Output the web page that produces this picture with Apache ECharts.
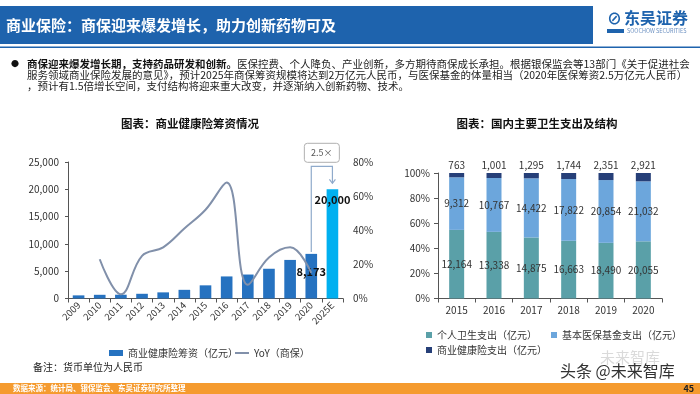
<!DOCTYPE html>
<html><head><meta charset="utf-8">
<script src="https://cdn.jsdelivr.net/npm/echarts@6/dist/echarts.min.js"></script>
<style>html,body{margin:0;padding:0;background:#fff}#c{width:700px;height:394px}</style>
</head><body><div id="c"></div><script>
// ---- data ----
const years = ['2009','2010','2011','2012','2013','2014','2015','2016','2017','2018','2019','2020','2025E'];
const premium = [574, 677, 692, 863, 1123, 1587, 2410, 4042, 4389, 5448, 7066, 8173, 20000];
const yoy = [null, 23, 2.5, 25, 30, 41, 52, 68, 8, 24, 30, 15, null];
const labeledBars = ['2020', '2025E'];
const years2 = ['2015','2016','2017','2018','2019','2020'];
const personal = [12164, 13338, 14875, 16663, 18490, 20055];
const basic = [9312, 10767, 14422, 17822, 20854, 21032];
const commercial = [763, 1001, 1295, 1744, 2351, 2921];
const multipleText = '2.5×';

const FONT = '"Noto Sans CJK SC", "Noto Sans", sans-serif';
const fmt = v => Number(v).toLocaleString('en-US');
const totals = personal.map((v, i) => v + basic[i] + commercial[i]);
const pct = arr => arr.map((v, i) => v / totals[i] * 100);

const chart = echarts.init(document.getElementById('c'), null, {renderer: 'canvas'});

const baseGraphic = [
  {type: 'rect', shape: {x: 0, y: 6, width: 593, height: 38}, style: {fill: '#1E63AD'}},
  {type: 'text', x: 6, y: 25, style: {text: '商业保险：商保迎来爆发增长，助力创新药物可及', fill: '#fff', font: 'bold 15px ' + FONT, textVerticalAlign: 'middle'}},
  {type: 'rect', shape: {x: 0, y: 46.5, width: 700, height: 1.6}, style: {fill: '#1E63AD'}},
  // logo
  {type: 'text', x: 607, y: 18, style: {text: '⊘', fill: '#1E63AD', font: 'bold 15px ' + FONT, textVerticalAlign: 'middle'}},
  {type: 'text', x: 624, y: 18, style: {text: '东吴证券', fill: '#1E63AD', font: 'bold 16px ' + FONT, textVerticalAlign: 'middle'}},
  {type: 'rect', shape: {x: 607, y: 29, width: 17, height: 4}, style: {fill: '#1E63AD'}},
  {type: 'text', x: 627, y: 31, style: {text: 'SOOCHOW SECURITIES', fill: '#6a8fc0', font: '5.5px ' + FONT, textVerticalAlign: 'middle'}},
  // bullet text
  {type: 'text', x: 11, y: 64, style: {text: '●', fill: '#111', font: '8px ' + FONT, textVerticalAlign: 'middle'}},
  {type: 'text', x: 27, y: 64, style: {
    text: '{b|商保迎来爆发增长期，支持药品研发和创新。}{n|医保控费、个人降负、产业创新，多方期待商保成长承担。根据银保监会等13部门《关于促进社会}',
    textVerticalAlign: 'middle',
    rich: {b: {font: 'bold 10.5px ' + FONT, fill: '#111'}, n: {font: '10.5px ' + FONT, fill: '#222'}}}},
  {type: 'text', x: 27, y: 75, style: {text: '服务领域商业保险发展的意见》，预计2025年商保筹资规模将达到2万亿元人民币，与医保基金的体量相当（2020年医保筹资2.5万亿元人民币）', fill: '#222', font: '10.5px ' + FONT, textVerticalAlign: 'middle'}},
  {type: 'text', x: 27, y: 86, style: {text: '，预计有1.5倍增长空间，支付结构将迎来重大改变，并逐渐纳入创新药物、技术。', fill: '#222', font: '10.5px ' + FONT, textVerticalAlign: 'middle'}},
  // chart titles
  {type: 'text', x: 190, y: 124, style: {text: '图表：商业健康险筹资情况', fill: '#111', font: 'bold 11.5px ' + FONT, textAlign: 'center', textVerticalAlign: 'middle'}},
  {type: 'text', x: 537, y: 124, style: {text: '图表：国内主要卫生支出及结构', fill: '#111', font: 'bold 11.5px ' + FONT, textAlign: 'center', textVerticalAlign: 'middle'}},
  {type: 'text', x: 33, y: 367, style: {text: '备注：货币单位为人民币', fill: '#222', font: '10px ' + FONT, textVerticalAlign: 'middle'}},
  // watermark
  {type: 'text', x: 600, y: 357, style: {text: '未来智库', fill: 'rgba(150,150,150,0.35)', font: '15px ' + FONT, textVerticalAlign: 'middle'}},
  {type: 'text', x: 560, y: 371, style: {text: '头条 @未来智库', fill: '#333', font: '16px ' + FONT, textVerticalAlign: 'middle'}},
  // footer
  {type: 'rect', shape: {x: 0, y: 383, width: 700, height: 11}, style: {fill: '#F59B2F'}},
  {type: 'text', x: 13, y: 388.5, style: {text: '数据来源：统计局、银保监会、东吴证券研究所整理', fill: '#fff', font: 'bold 7.5px ' + FONT, textVerticalAlign: 'middle'}},
  {type: 'text', x: 694, y: 388.5, style: {text: '45', fill: '#222', font: 'bold 9px ' + FONT, textAlign: 'right', textVerticalAlign: 'middle'}}
];

const axisLineStyle = {lineStyle: {color: '#555', width: 1}};
const tickFont = {fontFamily: FONT, fontSize: 10, color: '#333'};

const option = {
  animation: false,
  textStyle: {fontFamily: FONT},
  graphic: baseGraphic,
  grid: [
    {left: 68, right: 357, top: 162, bottom: 95.5},
    {left: 438, right: 38, top: 173, bottom: 95.5}
  ],
  legend: [
    {left: 104, top: 343, itemWidth: 14, itemHeight: 6, itemGap: 10, data: [{name: '商业健康险筹资（亿元）', icon: 'rect'}], textStyle: {fontFamily: FONT, fontSize: 10, color: '#333'}},
    {left: 230, top: 343, itemWidth: 14, itemHeight: 2, data: [{name: 'YoY（商保）', icon: 'rect'}], textStyle: {fontFamily: FONT, fontSize: 10, color: '#333'}},
    {left: 421, top: 325, itemWidth: 6, itemHeight: 6, itemGap: 14, data: [{name: '个人卫生支出（亿元）', icon: 'rect'}, {name: '基本医保基金支出（亿元）', icon: 'rect'}], textStyle: {fontFamily: FONT, fontSize: 10, color: '#333'}},
    {left: 421, top: 340, itemWidth: 6, itemHeight: 6, data: [{name: '商业健康险支出（亿元）', icon: 'rect'}], textStyle: {fontFamily: FONT, fontSize: 10, color: '#333'}}
  ],
  xAxis: [
    {gridIndex: 0, type: 'category', data: years, axisLine: axisLineStyle,
     axisTick: {show: true, alignWithLabel: false, length: 4, lineStyle: {color: '#555'}},
     axisLabel: Object.assign({rotate: 45, interval: 0, margin: 5}, tickFont, {fontSize: 9.5})},
    {gridIndex: 1, type: 'category', data: years2, axisLine: axisLineStyle,
     axisTick: {show: true, length: 4, lineStyle: {color: '#555'}},
     axisLabel: Object.assign({interval: 0, margin: 7}, tickFont)}
  ],
  yAxis: [
    {gridIndex: 0, type: 'value', min: 0, max: 25000, interval: 5000,
     axisLine: Object.assign({show: true}, axisLineStyle),
     axisTick: {show: true, length: 3, lineStyle: {color: '#555'}},
     splitLine: {show: false},
     axisLabel: Object.assign({formatter: v => fmt(v), margin: 9}, tickFont)},
    {gridIndex: 0, type: 'value', min: 0, max: 80, interval: 20, position: 'right',
     axisLine: {show: false}, axisTick: {show: false}, splitLine: {show: false},
     axisLabel: Object.assign({formatter: '{value}%', margin: 10}, tickFont)},
    {gridIndex: 1, type: 'value', min: 0, max: 100, interval: 20,
     axisLine: Object.assign({show: true}, axisLineStyle),
     axisTick: {show: true, length: 4, lineStyle: {color: '#555'}},
     splitLine: {show: false},
     axisLabel: Object.assign({formatter: '{value}%', margin: 8}, tickFont)}
  ],
  series: [
    {name: '商业健康险筹资（亿元）', type: 'bar', xAxisIndex: 0, yAxisIndex: 0, barWidth: '55%',
     itemStyle: {color: '#2672C0'},
     data: premium.map((v, i) => {
       const d = {value: v};
       if (years[i] === '2025E') d.itemStyle = {color: '#00B0F0'};
       if (labeledBars.includes(years[i])) d.label = {show: true, position: 'insideTop', distance: years[i] === '2025E' ? 5 : 12, formatter: p => fmt(p.value), fontFamily: FONT, fontWeight: 'bold', fontSize: 11, color: '#111'};
       return d;
     })},
    {name: 'YoY（商保）', type: 'line', xAxisIndex: 0, yAxisIndex: 1, smooth: 0.4, showSymbol: false,
     lineStyle: {color: '#8190AA', width: 2}, itemStyle: {color: '#8190AA'}, data: yoy},
    {name: '个人卫生支出（亿元）', type: 'bar', stack: 's', xAxisIndex: 1, yAxisIndex: 2, barWidth: 15,
     itemStyle: {color: '#5AA0A8'}, data: pct(personal),
     label: {show: true, position: 'inside', formatter: p => fmt(personal[p.dataIndex]), fontFamily: FONT, fontSize: 10, color: '#333'}},
    {name: '基本医保基金支出（亿元）', type: 'bar', stack: 's', xAxisIndex: 1, yAxisIndex: 2, barWidth: 15,
     itemStyle: {color: '#6CA6DC'}, data: pct(basic),
     label: {show: true, position: 'inside', formatter: p => fmt(basic[p.dataIndex]), fontFamily: FONT, fontSize: 10, color: '#333'}},
    {name: '商业健康险支出（亿元）', type: 'bar', stack: 's', xAxisIndex: 1, yAxisIndex: 2, barWidth: 15,
     itemStyle: {color: '#263F78'}, data: pct(commercial),
     label: {show: true, position: 'top', distance: 3, formatter: p => fmt(commercial[p.dataIndex]), fontFamily: FONT, fontSize: 10, color: '#333'}}
  ]
};
chart.setOption(option);

// annotation arrow between 2020 and 2025E bars, positioned from the axes
const i20 = years.indexOf('2020'), i25 = years.indexOf('2025E');
const p20 = chart.convertToPixel({xAxisIndex: 0, yAxisIndex: 0}, [i20, premium[i20]]);
const p25 = chart.convertToPixel({xAxisIndex: 0, yAxisIndex: 0}, [i25, premium[i25]]);
const yTop = p25[1] - 23;
const ann = [
  {type: 'polyline', shape: {points: [[p20[0], p20[1] - 2], [p20[0], yTop], [p25[0], yTop], [p25[0], p25[1] - 6]]}, style: {stroke: '#8FAACB', lineWidth: 1.2, fill: null}},
  {type: 'polyline', shape: {points: [[p25[0] - 3, p25[1] - 10], [p25[0], p25[1] - 6], [p25[0] + 3, p25[1] - 10]]}, style: {stroke: '#8FAACB', lineWidth: 1.2, fill: null}},
  {type: 'rect', shape: {x: (p20[0] + p25[0]) / 2 - 17.5, y: p25[1] - 46, width: 35, height: 19, r: 3}, style: {fill: '#fff', stroke: '#B0B0B0', lineWidth: 1}},
  {type: 'text', x: (p20[0] + p25[0]) / 2, y: p25[1] - 36.5, style: {text: multipleText, fill: '#555', font: '9px ' + FONT, textAlign: 'center', textVerticalAlign: 'middle'}}
];
chart.setOption({graphic: baseGraphic.concat(ann)});
</script></body></html>
